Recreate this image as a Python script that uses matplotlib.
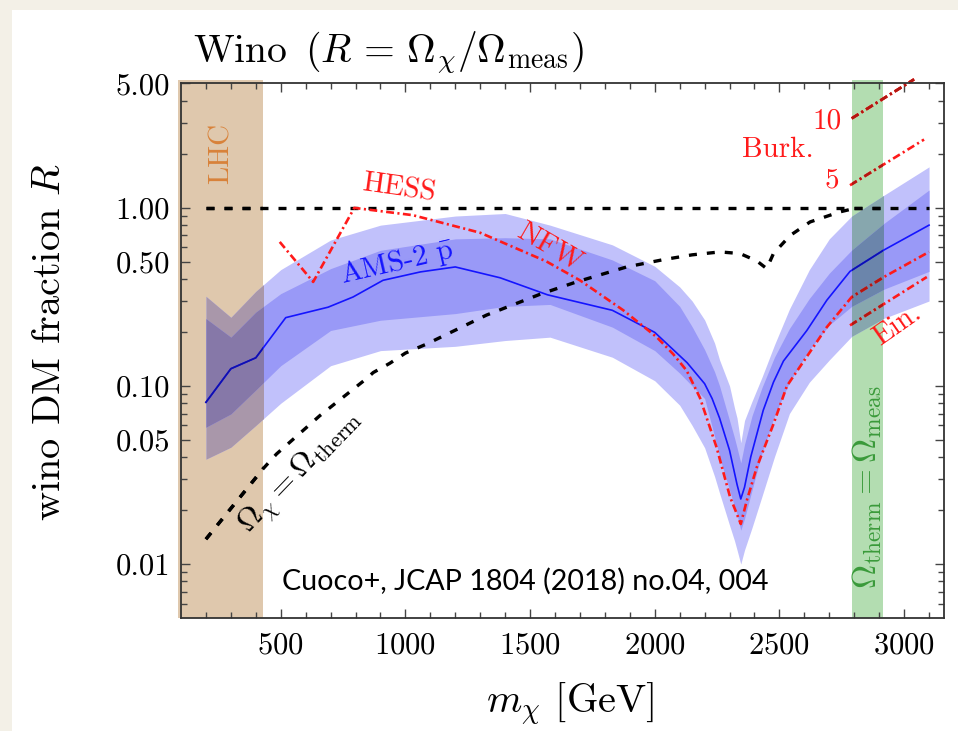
import matplotlib
matplotlib.use("Agg")
import matplotlib.pyplot as plt
import matplotlib.colors as mcolors
from matplotlib.patches import Rectangle
from matplotlib.ticker import NullFormatter
import numpy as np

plt.rcParams['font.family'] = 'serif'
plt.rcParams['font.serif'] = ['cmr10']
plt.rcParams['mathtext.fontset'] = 'cm'
plt.rcParams['axes.unicode_minus'] = False
plt.rcParams['axes.formatter.use_mathtext'] = True

# AMS-02 pbar limit: central line and 1/2 sigma bands
ams_x = [200, 300, 400, 520, 690, 790, 910, 1060, 1200, 1380, 1570, 1830, 2000, 2130,
         2200, 2230, 2260, 2300, 2330, 2345, 2360, 2385, 2435, 2476, 2516, 2610, 2690, 2783, 2917, 3100]
ams_y = [0.081, 0.125, 0.144, 0.242, 0.277, 0.316, 0.392, 0.437, 0.466, 0.405, 0.325, 0.266, 0.200, 0.135,
         0.103, 0.085, 0.066, 0.0435, 0.028, 0.0232, 0.027, 0.040, 0.073, 0.105, 0.138, 0.205, 0.303, 0.44,
         0.578, 0.80]

band_x = [200, 300, 400, 500, 700, 900, 1200, 1400, 1580, 1830, 2000, 2100, 2150, 2200, 2240, 2260,
          2300, 2320, 2330, 2345, 2360, 2390, 2430, 2480, 2540, 2620, 2700, 2790, 2920, 3100]
sig2_hi = [0.319, 0.243, 0.34, 0.45, 0.66, 0.80, 0.90, 0.93, 0.80, 0.62, 0.47, 0.36, 0.30, 0.235, 0.174, 0.14,
           0.10, 0.075, 0.066, 0.048, 0.064, 0.082, 0.112, 0.17, 0.27, 0.45, 0.67, 0.90, 1.18, 1.70]
sig1_hi = [0.239, 0.188, 0.26, 0.33, 0.456, 0.578, 0.67, 0.68, 0.67, 0.51, 0.39, 0.28, 0.215, 0.16, 0.12, 0.10,
           0.064, 0.051, 0.045, 0.037, 0.047, 0.068, 0.098, 0.145, 0.21, 0.31, 0.43, 0.58, 0.82, 1.26]
sig1_lo = [0.0587, 0.0697, 0.095, 0.13, 0.205, 0.234, 0.255, 0.28, 0.287, 0.214, 0.158, 0.118, 0.10, 0.085,
           0.052, 0.040, 0.026, 0.021, 0.019, 0.0155, 0.018, 0.026, 0.042, 0.068, 0.105, 0.16, 0.22, 0.28,
           0.35, 0.44]
sig2_lo = [0.0388, 0.0453, 0.06, 0.08, 0.130, 0.158, 0.167, 0.18, 0.188, 0.145, 0.107, 0.078, 0.06, 0.045,
           0.031, 0.025, 0.0165, 0.0135, 0.012, 0.010, 0.012, 0.016, 0.024, 0.04, 0.07, 0.105, 0.14, 0.19,
           0.24, 0.30]

# HESS line limits (NFW, Einasto, Burkert core 5 and 10 kpc)
nfw_x = [496, 630, 795, 1030, 1300, 1566, 1700, 1874, 2008, 2074, 2128, 2181, 2248, 2302, 2330,
         2345, 2369, 2409, 2476, 2530, 2690, 2790, 2920, 3100]
nfw_y = [0.644, 0.384, 1.0, 0.91, 0.725, 0.50, 0.392, 0.266, 0.188, 0.151, 0.122, 0.086, 0.0452, 0.0238, 0.019,
         0.0168, 0.0227, 0.0349, 0.0611, 0.100, 0.214, 0.316, 0.41, 0.566]
ein_x = [2783, 3091]
ein_y = [0.219, 0.409]
burk5_x = [2783, 3080]
burk5_y = [1.34, 2.42]
burk10_x = [2790, 3040]
burk10_y = [3.18, 5.27]

# thermal relic abundance of the wino
therm_x = [200, 430, 483, 656, 844, 871, 937, 1000, 1085, 1325, 1539, 1686, 1887, 2034, 2150, 2262, 2342,
           2409, 2449, 2476, 2543, 2623, 2743, 2810]
therm_y = [0.0138, 0.0344, 0.0415, 0.068, 0.110, 0.119, 0.134, 0.153, 0.172, 0.25, 0.327, 0.384, 0.466, 0.512,
           0.545, 0.566, 0.554, 0.504, 0.456, 0.554, 0.70, 0.834, 0.95, 1.0]
unity_x = [200, 3100]
unity_y = [1.0, 1.0]

lhc_lim = (87, 430)
meas_lim = (2790, 2917)

y_ticks = [0.01, 0.05, 0.1, 0.5, 1.0, 5.0]
y_labels = ['0.01', '0.05', '0.10', '0.50', '1.00', '5.00']
x_ticks = [500, 1000, 1500, 2000, 2500, 3000]

light_blue = '#c1c1fb'
dark_blue = '#9999f7'
line_blue = '#1414ff'
red = '#ff1a1a'
lhc_col = '#dfc8ad'
meas_col = '#b3ddb1'

DASH = (0, (2.4, 3.0))
DASHDOT = (0, (3.0, 1.3, 0.8, 1.3))


def draw_curves(ax, tint=None, clip=None):
    def col(c):
        rgb = np.array(mcolors.to_rgb(c))
        if tint is not None:
            rgb = rgb * np.array(mcolors.to_rgb(tint))
        return tuple(rgb)

    arts = []
    arts.append(ax.fill_between(band_x, sig2_lo, sig2_hi, color=col(light_blue), lw=0, zorder=2))
    arts.append(ax.fill_between(band_x, sig1_lo, sig1_hi, color=col(dark_blue), lw=0, zorder=3))
    arts += ax.plot(ams_x, ams_y, color=col(line_blue), lw=1.2, zorder=4)
    arts += ax.plot(therm_x, therm_y, color=col('black'), lw=2.4, ls=DASH, zorder=4)
    arts += ax.plot(unity_x, unity_y, color=col('black'), lw=2.4, ls=DASH, zorder=4)
    for xs, ys in [(nfw_x, nfw_y), (ein_x, ein_y), (burk5_x, burk5_y)]:
        arts += ax.plot(xs, ys, color=col(red), lw=1.9, ls=DASHDOT, zorder=5)
    arts += ax.plot(burk10_x, burk10_y, color=col(red), lw=1.9, ls=DASHDOT, zorder=5, clip_on=False)
    if clip is not None:
        for a in arts:
            a.set_clip_path(clip)


fig = plt.figure(figsize=(9.58, 7.31), dpi=100)

# slide frame around the plot
fig.patches.append(Rectangle((0, 1 - 10 / 731), 1, 10 / 731, transform=fig.transFigure,
                             color='#f3f0e7', lw=0, zorder=0))
fig.patches.append(Rectangle((0, 0), 12 / 958, 1, transform=fig.transFigure,
                             color='#f3f0e7', lw=0, zorder=0))

ax = fig.add_axes([181 / 958, 1 - 617.7 / 731, 763 / 958, 534.3 / 731])
ax.set_yscale('log')

lhc = Rectangle((lhc_lim[0], 0), lhc_lim[1] - lhc_lim[0], 1.007, transform=ax.get_xaxis_transform(),
                color=lhc_col, lw=0, zorder=1, clip_on=False)
meas = Rectangle((meas_lim[0], 0), meas_lim[1] - meas_lim[0], 1.007, transform=ax.get_xaxis_transform(),
                 color=meas_col, lw=0, zorder=1, clip_on=False)
ax.add_patch(lhc)
ax.add_patch(meas)

draw_curves(ax)
draw_curves(ax, tint=lhc_col, clip=lhc)
draw_curves(ax, tint=meas_col, clip=meas)

# ticks on all four sides, pointing in
ax.set_xticks(x_ticks)
ax.set_xticks(np.arange(200, 3200, 100), minor=True)
ax.set_yticks(y_ticks)
ax.set_yticklabels(y_labels)
minor_y = [m * d for d in [0.001, 0.01, 0.1, 1.0] for m in range(2, 10)]
ax.set_yticks([v for v in minor_y if 0.005 < v < 5 and v not in y_ticks], minor=True)
ax.yaxis.set_minor_formatter(NullFormatter())
ax.set_xlim(100, 3160)
ax.set_ylim(0.005, 5)
ax.tick_params(which='both', direction='in', top=True, right=True, color='#444444', width=1.0,
               labelsize=22)
ax.tick_params(axis='x', pad=10)
ax.tick_params(axis='y', pad=8)
ax.tick_params(which='major', length=6.5)
ax.tick_params(which='minor', length=4.0)
for s in ax.spines.values():
    s.set_color('#333333')
    s.set_linewidth(1.3)
    s.set_zorder(6)

# labels on the curves
ax.text(263, 2.03, 'LHC', color='#d8823a', fontsize=21, rotation=90, ha='center', va='center', zorder=7)
ax.text(973, 1.29, 'HESS', color=red, fontsize=21, rotation=-8, ha='center', va='center', zorder=7)
ax.text(1579, 0.60, 'NFW', color=red, fontsize=21, rotation=-30, ha='center', va='center', zorder=7)
ax.text(969, 0.489, r'AMS-2 $\bar{\mathrm{p}}$', color=line_blue, fontsize=21, rotation=13,
        ha='center', va='center', zorder=7)
ax.text(2494, 2.11, 'Burk.', color=red, fontsize=21, ha='center', va='center', zorder=7)
ax.text(2750, 3.05, '10', color=red, fontsize=21, ha='right', va='center', zorder=7)
ax.text(2739, 1.43, '5', color=red, fontsize=21, ha='right', va='center', zorder=7)
ax.text(2971, 0.219, 'Ein.', color=red, fontsize=21, rotation=35, ha='center', va='center', zorder=7)
ax.text(578, 0.0330, r'$\Omega_\chi = \Omega_{\mathrm{therm}}$', color='black', fontsize=23, rotation=46,
        ha='center', va='center', zorder=7)
ax.text(2853, 0.027, r'$\Omega_{\mathrm{therm}} = \Omega_{\mathrm{meas}}$', color='#3a9a3a', fontsize=24,
        rotation=90, ha='center', va='center', zorder=7)
ax.text(507, 0.00717, 'Cuoco+, JCAP 1804 (2018) no.04, 004', family='Lato', fontsize=20.6,
        ha='left', va='baseline', zorder=7)

fig.text(193 / 958, 1 - 62 / 731, r'Wino $\,(R\,=\,\Omega_\chi/\Omega_{\mathrm{meas}})$', fontsize=28.5,
         ha='left', va='baseline')
fig.text(50 / 958, 1 - 342 / 731, r'wino DM fraction $R$', fontsize=29, rotation=90,
         ha='center', va='center')
fig.text(570 / 958, 1 - 713 / 731, r'$m_\chi$ [GeV]', fontsize=29, ha='center', va='baseline')

fig.savefig('out.png', dpi=100)
